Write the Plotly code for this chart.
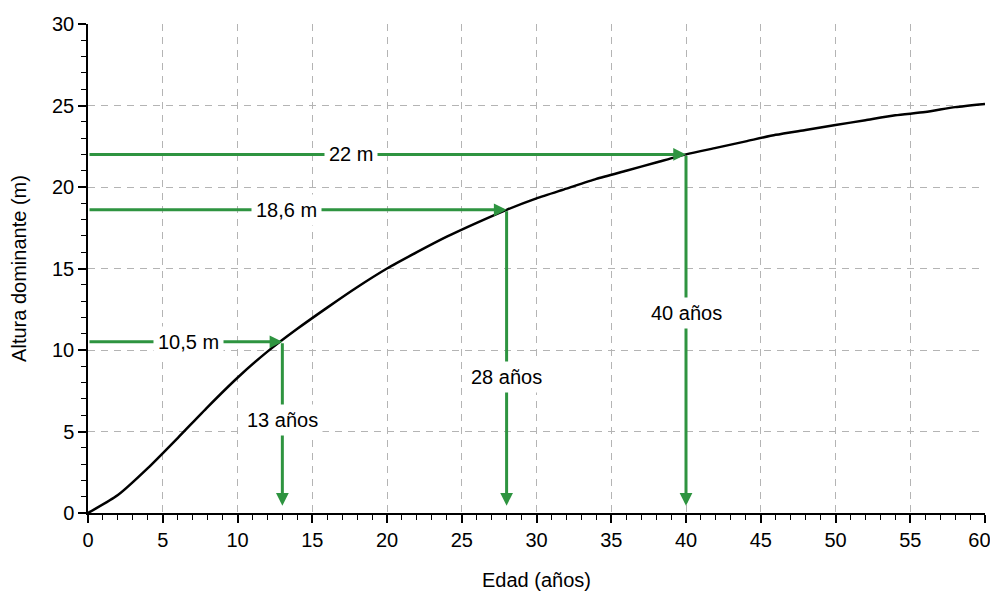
import plotly.graph_objects as go

edad = [0, 2, 4, 6, 8, 10, 12, 14, 16, 18, 20, 22, 24, 26, 28, 30, 32, 34, 36, 38,
        40, 42, 44, 46, 48, 50, 52, 54, 56, 58, 60]
altura = [0, 1.1, 2.75, 4.6, 6.5, 8.3, 9.9, 11.3, 12.6, 13.85, 15.0, 16.0, 16.95, 17.8,
          18.6, 19.3, 19.9, 20.5, 21.0, 21.5, 22.0, 22.4, 22.8, 23.2, 23.5, 23.8, 24.1,
          24.4, 24.6, 24.9, 25.1]

ejemplo_edad = [13, 28, 40]
ejemplo_altura = [10.5, 18.6, 22]
etiqueta_altura = ["10,5 m", "18,6 m", "22 m"]
etiqueta_edad = ["13 años", "28 años", "40 años"]
pos_etiqueta_altura_x = [6.7, 13.3, 17.6]
pos_etiqueta_edad_y = [5.7, 8.35, 12.3]

x_ticks = [0, 5, 10, 15, 20, 25, 30, 35, 40, 45, 50, 55, 60]
x_tick_labels = ["0", "5", "10", "15", "20", "25", "30", "35", "40", "45", "50", "55",
                 "60\u00a0\u00a0"]

FONT = "Liberation Sans, Arial, sans-serif"
GREEN = "#2e9440"

fig = go.Figure()
fig.add_trace(go.Scatter(x=edad, y=altura, mode="lines",
                         line=dict(color="black", width=2.5, shape="spline", smoothing=0.6),
                         hoverinfo="skip", showlegend=False))

ann = []
for ex, ey, lh, le, px, py in zip(ejemplo_edad, ejemplo_altura, etiqueta_altura,
                                  etiqueta_edad, pos_etiqueta_altura_x, pos_etiqueta_edad_y):
    ann.append(dict(x=ex, y=ey, ax=0, ay=ey, xref="x", yref="y", axref="x", ayref="y",
                    text="", showarrow=True, arrowhead=2, arrowsize=0.85, arrowwidth=3,
                    arrowcolor=GREEN, standoff=0))
    ann.append(dict(x=ex, y=0.45, ax=ex, ay=ey, xref="x", yref="y", axref="x", ayref="y",
                    text="", showarrow=True, arrowhead=2, arrowsize=0.85, arrowwidth=3,
                    arrowcolor=GREEN, standoff=0))
    ann.append(dict(x=px, y=ey, xref="x", yref="y", text=lh, showarrow=False,
                    bgcolor="white", borderpad=4,
                    font=dict(family=FONT, size=20, color="black")))
    ann.append(dict(x=ex, y=py, xref="x", yref="y", text=le, showarrow=False,
                    bgcolor="white", borderpad=4,
                    font=dict(family=FONT, size=20, color="black")))

axis_common = dict(showline=True, linecolor="black",
                   linewidth=1.5, ticks="outside", ticklen=8, tickwidth=1.5, tickcolor="black",
                   showgrid=True, gridcolor="#b4b4b4", griddash="7px,6px", gridwidth=1,
                   zeroline=False, tickfont=dict(size=20), automargin=False,
                   ticklabeloverflow="allow",
                   minor=dict(dtick=1, ticks="outside", ticklen=5, tickcolor="black",
                              tickwidth=1, showgrid=False))

fig.update_layout(
    width=982, height=587,
    margin=dict(l=80, r=5, t=16, b=82),
    paper_bgcolor="white", plot_bgcolor="white",
    font=dict(family=FONT, size=20, color="black"),
    annotations=ann,
    xaxis=dict(range=[0, 60], tickmode="array", tickvals=x_ticks, ticktext=x_tick_labels,
               **axis_common,
               title=dict(text="Edad (años)", font=dict(size=20), standoff=23)),
    yaxis=dict(range=[0, 30], dtick=5, tick0=0, **axis_common,
               title=dict(text="Altura dominante (m)", font=dict(size=20), standoff=20)),
)

fig.write_html("out.html")
